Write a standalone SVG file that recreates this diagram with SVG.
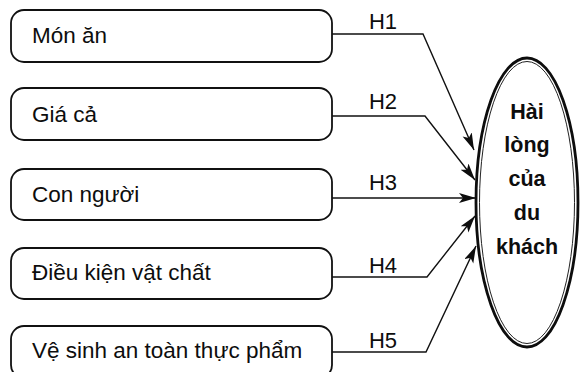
<svg xmlns="http://www.w3.org/2000/svg" width="580" height="372" viewBox="0 0 580 372">
  <style>
    .box { fill: #ffffff; stroke: #111; stroke-width: 1.8; }
    .lbl { font-family: "Liberation Sans", Arial, sans-serif; font-size: 22.5px; fill: #0d0d0d; }
    .h { font-family: "Liberation Sans", Arial, sans-serif; font-size: 22px; fill: #0d0d0d; text-anchor: middle; }
    .link { fill: none; stroke: #111; stroke-width: 1.4; marker-end: url(#arrow); }
    .out { fill: #ffffff; stroke: #0d0d0d; stroke-width: 2.8; }
    .in { fill: none; stroke: #222; stroke-width: 1; }
    .goal { font-family: "Liberation Sans", Arial, sans-serif; font-size: 21.5px; font-weight: bold; fill: #0d0d0d; text-anchor: middle; }
  </style>
  <defs>
    <marker id="arrow" markerUnits="userSpaceOnUse" markerWidth="18" markerHeight="11" refX="17" refY="5" orient="auto">
      <path d="M0,0 L17,5 L0,10 L4,5 Z" fill="#0d0d0d"/>
    </marker>
  </defs>
  <rect width="580" height="372" fill="#ffffff"/>

  <!-- factor boxes -->
  <g id="mon-an">
    <rect class="box" x="11" y="10" width="321" height="52" rx="13"/>
    <text class="lbl" x="32" y="43">Món ăn</text>
  </g>
  <g id="gia-ca">
    <rect class="box" x="11" y="88" width="321" height="52" rx="13"/>
    <text class="lbl" x="32" y="122">Giá cả</text>
  </g>
  <g id="con-nguoi">
    <rect class="box" x="11" y="169" width="321" height="51" rx="13"/>
    <text class="lbl" x="32" y="202">Con người</text>
  </g>
  <g id="dieu-kien">
    <rect class="box" x="11" y="248" width="321" height="51" rx="13"/>
    <text class="lbl" x="32" y="280">Điều kiện vật chất</text>
  </g>
  <g id="ve-sinh">
    <rect class="box" x="11" y="326" width="321" height="52" rx="13"/>
    <text class="lbl" x="32" y="358">Vệ sinh an toàn thực phẩm</text>
  </g>

  <!-- outcome -->
  <g id="hai-long">
    <ellipse class="out" cx="527" cy="202.5" rx="51" ry="144.5"/>
    <ellipse class="in" cx="527" cy="202.5" rx="47.5" ry="141"/>
    <text class="goal" x="527" y="119">Hài</text>
    <text class="goal" x="527" y="152">lòng</text>
    <text class="goal" x="527" y="186">của</text>
    <text class="goal" x="527" y="220">du</text>
    <text class="goal" x="527" y="254">khách</text>
  </g>

  <!-- hypothesis links -->
  <g id="links">
    <polyline class="link" points="332,34 423,34 474,150"/>
    <polyline class="link" points="332,116 425,116 475,180"/>
    <polyline class="link" points="332,198 476,198"/>
    <polyline class="link" points="332,277 427,277 475,216"/>
    <polyline class="link" points="332,352 426,352 476,246"/>
    <text class="h" x="383" y="29">H1</text>
    <text class="h" x="383" y="109">H2</text>
    <text class="h" x="383" y="190">H3</text>
    <text class="h" x="383" y="273">H4</text>
    <text class="h" x="383" y="348">H5</text>
  </g>
</svg>
